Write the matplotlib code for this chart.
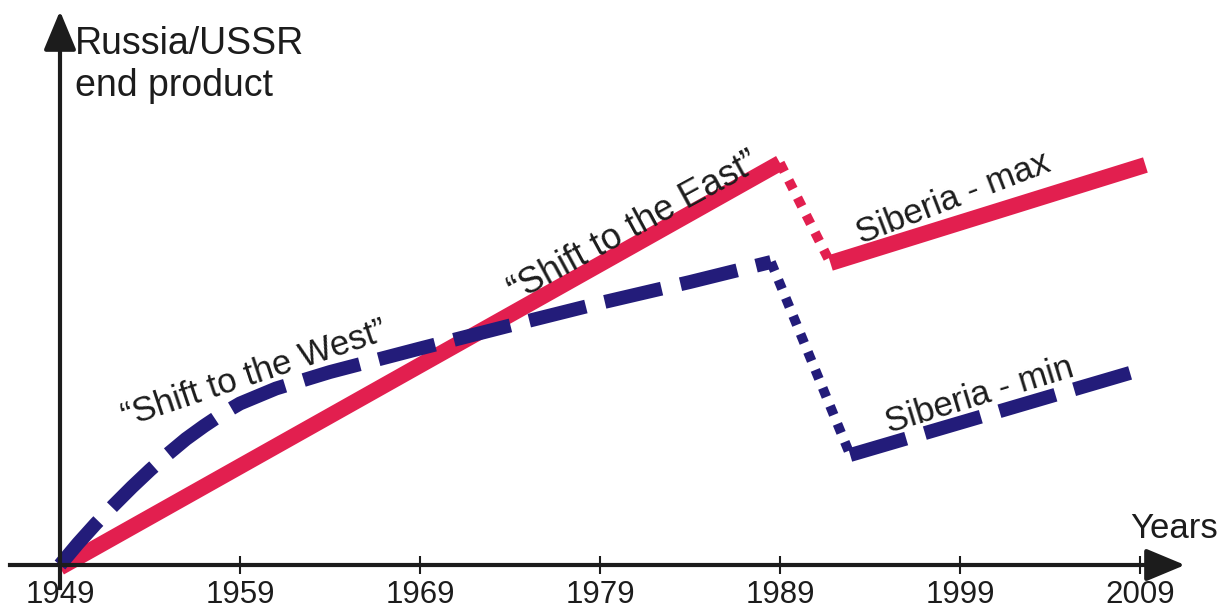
import matplotlib
matplotlib.use("Agg")
import matplotlib.pyplot as plt

plt.rcParams['font.family'] = ['Liberation Sans', 'DejaVu Sans']

# (y in arbitrary "end product" units)
tick_years = [1949, 1959, 1969, 1979, 1989, 1999, 2009]

west_years = [1949, 1950, 1951, 1952, 1953, 1954, 1955, 1956, 1957, 1958, 1959,
              1961, 1964, 1969, 1974, 1979, 1984, 1988.5]
west_vals = [0, 4.3, 8.3, 12, 15.6, 19, 22.2, 25.2, 27.8, 30.2, 32.3,
             35.3, 38.6, 43.3, 47.9, 52.4, 56.6, 60.6]
min_drop_years = [1988.5, 1992.9]
min_drop_vals = [60.6, 22]
min_years = [1992.9, 2009]
min_vals = [22, 39]

east_years = [1949, 1989]
east_vals = [-0.5, 80.4]
max_drop_years = [1989, 1991.8]
max_drop_vals = [80.4, 60.4]
max_years = [1991.8, 2009.3]
max_vals = [60.4, 80]

RED = '#E21F4F'
BLUE = '#231C7A'
INK = '#1c1c1c'

fig = plt.figure(figsize=(12.28, 6.11), dpi=100)
ax = fig.add_axes([0, 0, 1, 1])
ax.set_xlim(1945.667, 2013.889)
ax.set_ylim(-9.2, 113)

# red: solid / dotted / solid
ax.plot(east_years, east_vals, color=RED, lw=11.5, solid_capstyle='butt')
ax.plot(max_drop_years, max_drop_vals, color=RED, lw=7, linestyle=(0, (1, 1)), dash_capstyle='butt')
ax.plot(max_years, max_vals, color=RED, lw=11.5, solid_capstyle='butt')

# blue: dashed / dotted / dashed
ax.plot(west_years, west_vals, color=BLUE, lw=10, linestyle=(0, (4.2, 1.4)), dash_capstyle='butt')
ax.plot(min_drop_years, min_drop_vals, color=BLUE, lw=7, linestyle=(0, (1, 1)), dash_capstyle='butt')
ax.plot(min_years, min_vals, color=BLUE, lw=10, linestyle=(0, (4.2, 1.4)), dash_capstyle='butt')

# axes with arrows
for s in ['top', 'right']:
    ax.spines[s].set_visible(False)
ax.spines['bottom'].set_position(('data', 0))
ax.spines['left'].set_position(('data', 1949))
ax.spines['bottom'].set_bounds(1946.2, 2010)
ax.spines['left'].set_bounds(-4.5, 106)
for s in ['bottom', 'left']:
    ax.spines[s].set_linewidth(3)
    ax.spines[s].set_color(INK)
arrow = dict(arrowstyle='-|>,head_length=0.6,head_width=0.25', color=INK, lw=3,
             mutation_scale=40, shrinkA=0, shrinkB=0)
ax.annotate('', xy=(2011.5, 0), xytext=(2009.5, 0), arrowprops=arrow)
ax.annotate('', xy=(1949, 110.8), xytext=(1949, 104), arrowprops=arrow)

ax.set_xticks(tick_years)
ax.set_xticklabels([str(y) for y in tick_years])
ax.tick_params(axis='x', direction='inout', length=13, width=1.5, pad=4,
               labelsize=22.5, colors=INK)
ax.set_yticks([])

ax.text(1949.83, 107.8, 'Russia/USSR\nend product', fontsize=27, va='top', ha='left',
        color=INK, linespacing=1.2)
ax.text(2010.9, 7.4, 'Years', fontsize=25, ha='center', va='center', color=INK)

ax.text(1959.8, 38.2, '\u201cShift to the West\u201d', fontsize=25, rotation=18.5,
        ha='center', va='center', color=INK, rotation_mode='anchor')
ax.text(1980.9, 67.6, '\u201cShift to the East\u201d', fontsize=26, rotation=28.5,
        ha='center', va='center', color=INK, rotation_mode='anchor')
ax.text(1998.6, 73.4, 'Siberia - max', fontsize=25, rotation=21,
        ha='center', va='center', color=INK, rotation_mode='anchor')
ax.text(2000.1, 34, 'Siberia - min', fontsize=25, rotation=17,
        ha='center', va='center', color=INK, rotation_mode='anchor')

fig.savefig('out.png', dpi=100, facecolor='white')
